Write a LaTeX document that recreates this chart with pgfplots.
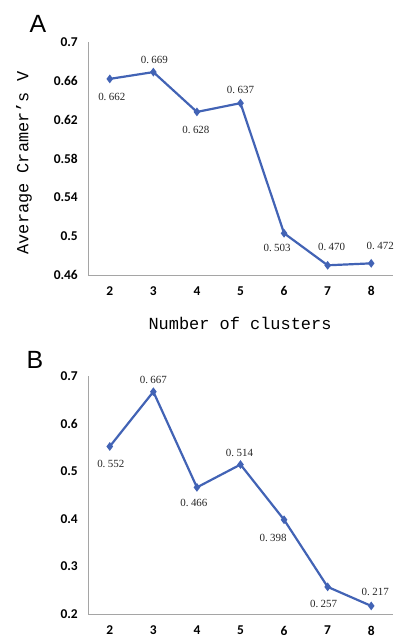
\documentclass[border=0pt]{standalone}
\usepackage{fontspec}
\setmainfont{Liberation Serif}
\newfontfamily\tickfont{Carlito}
\newfontfamily\labfont{Liberation Mono}
\newfontfamily\panelfont{Liberation Sans}
\usepackage{pgfplots}
\usepackage{pgfplotstable}
\pgfplotsset{compat=1.18}
\definecolor{lineblue}{RGB}{66,99,181}
\definecolor{axgray}{RGB}{165,165,165}

\pgfplotstableread{
x y lab dx dy
2 0.662 662 2 -18
3 0.669 669 1 12
4 0.628 628 -1 -18
5 0.637 637 0 13
6 0.503 503 -7 -15
7 0.470 470 4 18
8 0.472 472 9 17
}\dataA

\pgfplotstableread{
x y lab dx dy
2 0.552 552 1 -17
3 0.667 667 0 12
4 0.466 466 -3 -16
5 0.514 514 -1 12
6 0.398 398 -11 -18
7 0.257 257 -4 -17
8 0.217 217 4 14
}\dataB

\pgfplotsset{
  mystyle/.style={
    scale only axis, width=305bp,
    xmin=1.5, xmax=8.5,
    axis x line*=bottom, axis y line*=left,
    axis line style={-, axgray, line width=0.8bp},
    major tick length=0pt,
    xtick={2,3,4,5,6,7,8},
    tick label style={font=\tickfont\bfseries\fontsize{13.5}{13.5}\selectfont},
    /pgf/number format/assume math mode=true,
    xticklabel style={anchor=center, yshift=-16bp},
    yticklabel style={anchor=east, inner sep=0pt, xshift=-10bp},
    clip=false,
  },
  myplot/.style={
    lineblue, line width=2.2bp,
    mark=diamond*, mark size=2.6bp, mark options={solid, fill=lineblue},
    nodes near coords={0.\hspace{0.22em}\pgfplotspointmeta},
    point meta=explicit symbolic,
    visualization depends on={\thisrow{dx} \as \dx},
    visualization depends on={\thisrow{dy} \as \dy},
    every node near coord/.append style={anchor=center, xshift=\dx bp, yshift=\dy bp,
      font=\fontsize{11}{11}\selectfont, text=black!85, inner sep=0pt},
  }
}

\begin{document}
\begin{tikzpicture}
\path[use as bounding box] (0,0) rectangle (398bp,-638bp);

\begin{axis}[mystyle, at={(88bp,-275bp)}, anchor=south west, height=233bp,
  ymin=0.46, ymax=0.7, ytick={0.46,0.5,0.54,0.58,0.62,0.66,0.7}]
\addplot[myplot] table[x=x, y=y, meta=lab] {\dataA};
\end{axis}

\begin{axis}[mystyle, at={(88bp,-614bp)}, anchor=south west, height=238bp,
  ymin=0.2, ymax=0.7, ytick={0.2,0.3,0.4,0.5,0.6,0.7},
  xticklabel style={yshift=-0.5bp}]
\addplot[myplot] table[x=x, y=y, meta=lab] {\dataB};
\end{axis}

\node[font=\panelfont\fontsize{25}{25}\selectfont, inner sep=0pt] at (38bp,-24bp) {A};
\node[font=\panelfont\fontsize{25}{25}\selectfont, inner sep=0pt] at (35bp,-360bp) {B};
\node[rotate=90, font=\labfont\fontsize{17}{17}\selectfont, inner sep=0pt] at (24bp,-163bp) {Average Cramer’s V};
\node[font=\labfont\fontsize{17}{17}\selectfont, inner sep=0pt] at (240bp,-323bp) {Number of clusters};
\end{tikzpicture}
\end{document}
